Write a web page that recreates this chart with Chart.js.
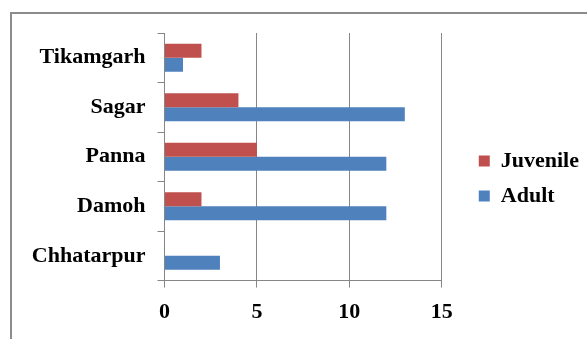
<!DOCTYPE html>
<html>
<head>
<meta charset="utf-8">
<script src="https://cdn.jsdelivr.net/npm/chart.js@4"></script>
<style>
    html, body { margin: 0; padding: 0; background: #fff; overflow: hidden; }
    .frame {
        position: absolute; left: 10px; top: 12px; width: 640px; height: 400px;
        border: 2px solid #8c8c8c;
    }
    #chart { position: absolute; left: 0; top: 0; }
</style>
</head>
<body>
<div class="frame"></div>
<canvas id="chart" width="587" height="339"></canvas>
<script>
const districts = ['Tikamgarh', 'Sagar', 'Panna', 'Damoh', 'Chhatarpur'];
const juvenile = [2, 4, 5, 2, 0];
const adult = [1, 13, 12, 12, 3];
const xTicks = [0, 5, 10, 15];

document.addEventListener('DOMContentLoaded', () => {
    const serif = "'Times New Roman', 'Liberation Serif', serif";
    const gridColor = '#868686';

    // move the legend a bit right of the plot and up, like the original
    const legendShift = {
        id: 'legendShift',
        afterLayout(chart) {
            const lg = chart.legend;
            lg.left += 24;
            lg.right += 24;
            lg.top -= 7;
            lg.bottom -= 7;
        }
    };

    const ctx = document.getElementById('chart').getContext('2d');
    new Chart(ctx, {
        type: 'bar',
        data: {
            labels: districts,
            datasets: [{
                label: 'Juvenile',
                data: juvenile,
                backgroundColor: '#C0504D'
            }, {
                label: 'Adult',
                data: adult,
                backgroundColor: '#4F81BD'
            }]
        },
        options: {
            indexAxis: 'y',
            responsive: false,
            animation: false,
            categoryPercentage: 0.565,
            barPercentage: 1,
            layout: {
                padding: { left: 31, top: 33, right: 22, bottom: 1 }
            },
            scales: {
                x: {
                    min: xTicks[0],
                    max: xTicks[xTicks.length - 1],
                    afterBuildTicks: axis => {
                        axis.ticks = xTicks.map(v => ({ value: v }));
                    },
                    grid: { color: gridColor, tickLength: 7 },
                    border: { color: gridColor },
                    ticks: {
                        color: '#000',
                        padding: 12,
                        font: { family: serif, size: 22, weight: 'bold' }
                    }
                },
                y: {
                    grid: { color: gridColor, drawOnChartArea: false, tickLength: 7 },
                    border: { color: gridColor },
                    ticks: {
                        color: '#000',
                        padding: 12,
                        font: { family: serif, size: 22, weight: 'bold' }
                    }
                }
            },
            plugins: {
                legend: {
                    position: 'right',
                    labels: {
                        boxWidth: 11,
                        boxHeight: 11,
                        padding: 13,
                        color: '#000',
                        font: { family: serif, size: 22, weight: 'bold' }
                    }
                },
                tooltip: { enabled: false }
            }
        },
        plugins: [legendShift]
    });
});
</script>
</body>
</html>
